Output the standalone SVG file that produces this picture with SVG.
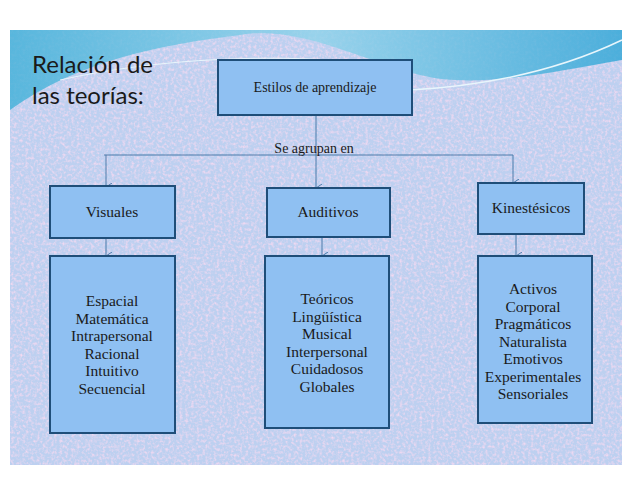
<svg xmlns="http://www.w3.org/2000/svg" width="638" height="479" viewBox="0 0 638 479">
<defs>
<filter id="tex" x="0" y="0" width="100%" height="100%">
<feTurbulence type="fractalNoise" baseFrequency="0.35" numOctaves="2" seed="3" result="n"/>
<feColorMatrix in="n" type="matrix" values="0 0 0 0 0.93  0 0 0 0 0.7  0 0 0 0 0.88  2 0 0 0 -0.85" result="p"/>
<feComposite in="p" in2="SourceGraphic" operator="in"/>
</filter>
<linearGradient id="wave" x1="0" y1="0" x2="1" y2="0">
<stop offset="0" stop-color="#3fb0d8"/><stop offset="0.5" stop-color="#8fd3ea"/><stop offset="1" stop-color="#2fa6d6"/>
</linearGradient>
<marker id="ar" markerWidth="8" markerHeight="8" refX="4" refY="6" orient="auto" markerUnits="userSpaceOnUse">
<path d="M0,0 L4,6 L8,0" fill="none" stroke="#4a7aaa" stroke-width="1"/>
</marker>
<style>
.box{fill:#8fc0f2;stroke:#1f4e79;stroke-width:2}
.t{font-family:"Liberation Serif","DejaVu Serif",serif;font-size:15.5px;fill:#1a1a1a;text-anchor:middle}
.c{stroke:#4a7aaa;stroke-width:1;fill:none}
</style>
</defs>
<rect width="638" height="479" fill="#fff"/>
<rect x="10" y="30" width="612" height="435" fill="#bdd0f0"/>
<rect x="10" y="30" width="612" height="435" fill="#bdd0f0" filter="url(#tex)"/>
<path d="M10,30 L622,30 L622,60 C560,70 480,90 420,75 C360,60 300,25 240,35 C160,45 80,60 10,110 Z" fill="url(#wave)" opacity="0.8"/>
<path d="M60,80 C150,60 250,55 330,60" stroke="#e8f6fc" stroke-width="1" fill="none"/>
<path d="M410,90 C500,85 570,65 622,40" stroke="#e8f6fc" stroke-width="1.5" fill="none"/>
<text x="32" y="73" font-family="Lato,'Liberation Sans',sans-serif" font-size="24" fill="#1a1a1a">Relación de</text>
<text x="32" y="104" font-family="Lato,'Liberation Sans',sans-serif" font-size="24" fill="#1a1a1a">las teorías:</text>
<g id="connectors">
<path class="c" d="M316,115 V188" marker-end="url(#ar)"/>
<path class="c" d="M104,155 H513"/>
<path class="c" d="M106,155 V187" marker-end="url(#ar)"/>
<path class="c" d="M513,155 V183" marker-end="url(#ar)"/>
<path class="c" d="M106,238 V256" marker-end="url(#ar)"/>
<path class="c" d="M322,237 V256" marker-end="url(#ar)"/>
<path class="c" d="M516,234 V256" marker-end="url(#ar)"/>
<text class="t" x="314" y="153" style="font-size:14px">Se agrupan en</text>
</g>
<g id="n-estilos"><rect class="box" x="218" y="60" width="194" height="55"/><text class="t" x="315" y="92" style="font-size:14px">Estilos de aprendizaje</text></g>
<g id="n-visuales"><rect class="box" x="50" y="186" width="125" height="52"/><text class="t" x="112" y="217">Visuales</text></g>
<g id="n-auditivos"><rect class="box" x="267" y="188" width="123" height="49"/><text class="t" x="328" y="217">Auditivos</text></g>
<g id="n-kines"><rect class="box" x="478" y="183" width="106" height="51"/><text class="t" x="531" y="213">Kinestésicos</text></g>
<g id="n-vlist"><rect class="box" x="50" y="256" width="125" height="177"/>
<text class="t" x="112" y="306">Espacial<tspan x="112" dy="17.5">Matemática</tspan><tspan x="112" dy="17.5">Intrapersonal</tspan><tspan x="112" dy="17.5">Racional</tspan><tspan x="112" dy="17.5">Intuitivo</tspan><tspan x="112" dy="17.5">Secuencial</tspan></text></g>
<g id="n-alist"><rect class="box" x="265" y="256" width="124" height="172"/>
<text class="t" x="327" y="304">Teóricos<tspan x="327" dy="17.5">Lingüística</tspan><tspan x="327" dy="17.5">Musical</tspan><tspan x="327" dy="17.5">Interpersonal</tspan><tspan x="327" dy="17.5">Cuidadosos</tspan><tspan x="327" dy="17.5">Globales</tspan></text></g>
<g id="n-klist"><rect class="box" x="478" y="256" width="114" height="167"/>
<text class="t" x="533" y="294">Activos<tspan x="533" dy="17.5">Corporal</tspan><tspan x="533" dy="17.5">Pragmáticos</tspan><tspan x="533" dy="17.5">Naturalista</tspan><tspan x="533" dy="17.5">Emotivos</tspan><tspan x="533" dy="17.5">Experimentales</tspan><tspan x="533" dy="17.5">Sensoriales</tspan></text></g>
</svg>
